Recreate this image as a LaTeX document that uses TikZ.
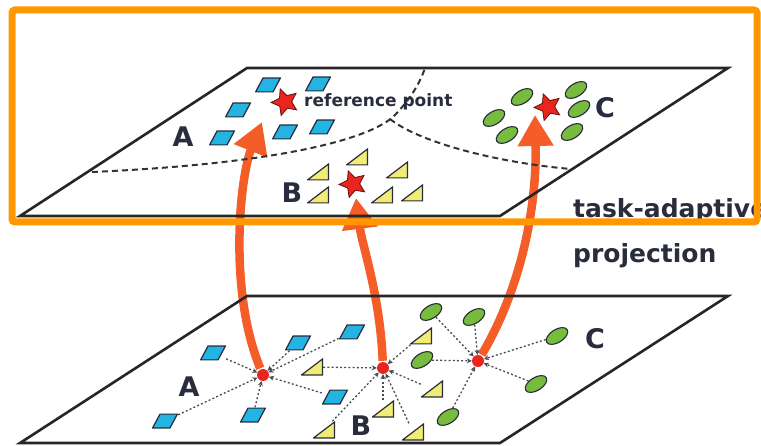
\documentclass[tikz,border=0pt]{standalone}
\usepackage{fontspec}
\usetikzlibrary{shapes.geometric,arrows.meta}
\newfontfamily\labelfont{DejaVu Sans}
\definecolor{paracyan}{RGB}{36,180,228}
\definecolor{triyellow}{RGB}{240,236,118}
\definecolor{ovalgreen}{RGB}{120,188,62}
\definecolor{starred}{RGB}{232,38,30}
\definecolor{projorange}{RGB}{244,92,40}
\definecolor{frameorange}{RGB}{255,152,0}
\definecolor{ink}{RGB}{40,44,60}

\begin{document}
\begin{tikzpicture}[x=1pt, y=1pt]
	\tikzstyle{plane}=[draw=black!85, line width=2.6pt]
	\tikzstyle{border}=[draw=black!80, line width=2pt, dash pattern=on 6pt off 4pt]
	\tikzstyle{para}=[minimum width=26pt, minimum height=15pt, inner sep=0pt, path picture={\draw[ink, line width=1.2pt, fill=paracyan] ([shift={(0.6pt,0.6pt)}]path picture bounding box.south west) -- ([shift={(18pt,0.6pt)}]path picture bounding box.south west) -- ([shift={(-0.6pt,-0.6pt)}]path picture bounding box.north east) -- ([shift={(-18pt,-0.6pt)}]path picture bounding box.north east) -- cycle;}]
	\tikzstyle{tri}=[minimum width=22pt, minimum height=17pt, inner sep=0pt, path picture={\draw[ink, line width=1.2pt, fill=triyellow] ([shift={(0.6pt,0.6pt)}]path picture bounding box.south west) -- ([shift={(-0.6pt,0.6pt)}]path picture bounding box.south east) -- ([shift={(-0.6pt,-0.6pt)}]path picture bounding box.north east) -- cycle;}]
	\tikzstyle{oval}=[ellipse, minimum width=24pt, minimum height=13pt, inner sep=0pt, rotate=32, draw=ink, line width=1.1pt, fill=ovalgreen]
	\tikzstyle{refpt}=[star, star points=5, star point ratio=2.1, minimum size=28pt, inner sep=0pt, rotate=20, draw=black!55!starred, line width=0.8pt, fill=starred]
	\tikzstyle{mean}=[circle, minimum size=12pt, inner sep=0pt, fill=starred]
	\tikzstyle{link}=[-{Stealth[length=5pt, width=5pt]}, draw=ink!85, line width=1.3pt, dash pattern=on 2pt off 2.2pt]
	\tikzstyle{proj}=[-{Triangle[length=31pt, width=34pt]}, draw=projorange, line width=8.5pt, shorten <=1pt]
	\tikzstyle{lbl}=[inner sep=0pt, text=ink, font=\labelfont\bfseries\fontsize{27}{27}\selectfont]
	\tikzstyle{note}=[inner sep=0pt, text=ink, font=\labelfont\bfseries\fontsize{25}{25}\selectfont]
	\clip (0, 0) rectangle (761, 445);

	% embedding space (bottom)
	\draw node[mean] at (263, 70) (pa) {};
	\draw node[mean] at (383, 77) (pb) {};
	\draw node[mean] at (478, 84) (pc) {};
	\draw node[para] at (213, 92) (a1) {};
	\draw node[para] at (298, 102) (a2) {};
	\draw node[para] at (352, 113) (a3) {};
	\draw node[para] at (335, 48) (a4) {};
	\draw node[para] at (165, 24) (a5) {};
	\draw node[para] at (253, 30) (a6) {};
	\draw node[tri] at (312, 78) (b1) {};
	\draw node[tri] at (421, 109) (b2) {};
	\draw node[tri] at (432, 56) (b3) {};
	\draw node[tri] at (383, 36) (b4) {};
	\draw node[tri] at (324, 15) (b5) {};
	\draw node[tri] at (413, 13) (b6) {};
	\draw node[oval] at (431, 133) (c1) {};
	\draw node[oval] at (474, 128) (c2) {};
	\draw node[oval] at (422, 85) (c3) {};
	\draw node[oval] at (557, 109) (c4) {};
	\draw node[oval] at (536, 61) (c5) {};
	\draw node[oval] at (448, 28) (c6) {};

	% projected space (top)
	\coordinate (tipa) at (262, 323);
	\coordinate (tipb) at (356, 247);
	\coordinate (tipc) at (535, 330);

	\draw [proj] (pa) .. controls (228, 155) and (240, 268) .. (tipa);
	\draw [proj] (pb) .. controls (380, 150) and (362, 200) .. (tipb);
	\draw [proj] (pc) .. controls (520, 155) and (537, 235) .. (tipc);

	\draw [plane] (20, 2) -- (500, 2) -- (728, 149) -- (247, 149) -- cycle;
	\draw [plane] (20, 229) -- (500, 229) -- (728, 377) -- (247, 377) -- cycle;
	\draw [border] (92, 273) .. controls (250, 280) and (360, 300) .. (393, 328) .. controls (410, 345) and (420, 362) .. (425, 377);
	\draw [border] (390, 326) .. controls (420, 302) and (500, 282) .. (571, 276);

	\draw node[para] at (268, 360) (ta1) {};
	\draw node[para] at (318, 361) (ta2) {};
	\draw node[para] at (238, 335) (ta3) {};
	\draw node[para] at (222, 307) (ta4) {};
	\draw node[para] at (285, 313) (ta5) {};
	\draw node[para] at (322, 318) (ta6) {};
	\draw node[tri] at (357, 288) (tb1) {};
	\draw node[tri] at (318, 273) (tb2) {};
	\draw node[tri] at (397, 275) (tb3) {};
	\draw node[tri] at (318, 250) (tb4) {};
	\draw node[tri] at (382, 250) (tb5) {};
	\draw node[tri] at (412, 252) (tb6) {};
	\draw node[oval] at (494, 327) (tc1) {};
	\draw node[oval] at (522, 348) (tc2) {};
	\draw node[oval] at (576, 355) (tc3) {};
	\draw node[oval] at (579, 336) (tc4) {};
	\draw node[oval] at (507, 310) (tc5) {};
	\draw node[oval] at (572, 313) (tc6) {};
	\draw node[refpt] at (285, 343) (sa) {};
	\draw node[refpt] at (353, 261) (sb) {};
	\draw node[refpt] at (548, 338) (sc) {};

	% each sample points to its class mean
	\draw [link] (a1) -- (pa);
	\draw [link] (a2) -- (pa);
	\draw [link] (a3) -- (pa);
	\draw [link] (a4) -- (pa);
	\draw [link] (a5) -- (pa);
	\draw [link] (a6) -- (pa);
	\draw [link] (b1) -- (pb);
	\draw [link] (b2) -- (pb);
	\draw [link] (b3) -- (pb);
	\draw [link] (b4) -- (pb);
	\draw [link] (b5) -- (pb);
	\draw [link] (b6) -- (pb);
	\draw [link] (c1) -- (pc);
	\draw [link] (c2) -- (pc);
	\draw [link] (c3) -- (pc);
	\draw [link] (c4) -- (pc);
	\draw [link] (c5) -- (pc);
	\draw [link] (c6) -- (pc);

	\draw node[lbl] at (189, 58) (la) {A};
	\draw node[lbl] at (361, 19) (lb) {B};
	\draw node[lbl] at (595, 106) (lc) {C};
	\draw node[lbl] at (183, 308) (ua) {A};
	\draw node[lbl] at (292, 252) (ub) {B};
	\draw node[lbl] at (605, 337) (uc) {C};
	\draw node[inner sep=0pt, text=ink, font=\labelfont\bfseries\fontsize{17}{17}\selectfont, anchor=base west] at (304, 338) (ref) {reference point};
	\draw node[note, anchor=base west] at (573, 227) (task) {task-adaptive};
	\draw node[note, anchor=base west] at (573, 182) (proj) {projection};

	\draw [draw=frameorange, line width=7pt, rounded corners=3pt] (12, 435) rectangle (757, 223);
\end{tikzpicture}
\end{document}
